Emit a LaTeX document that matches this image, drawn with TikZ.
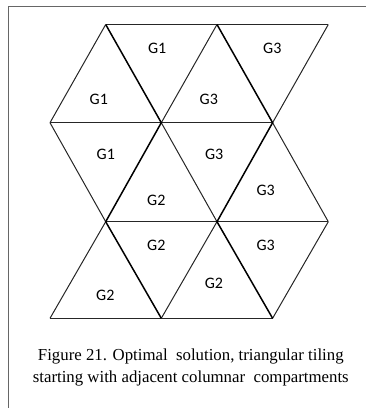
\documentclass[tikz,border=0pt]{standalone}
\usepackage{fontspec}
\setmainfont{Liberation Serif}
\newfontfamily\cellfont{Carlito}
\begin{document}
\begin{tikzpicture}[
  x=1pt, y=-1pt,
  edge/.style={line width=1pt, black!85},
  heavy/.style={line width=1.5pt, black},
  frame/.style={line width=1.5pt, black!60},
  cell/.style={font=\cellfont\fontsize{16}{18}\selectfont, inner sep=0pt},
  caption/.style={font=\fontsize{16.8}{22.7}\selectfont, align=center, anchor=base}
]
  \useasboundingbox (0,0) rectangle (366,408);
  \draw[frame] (366,6.5) -| (8.5,408);
  % vertices, four rows
  \foreach \r/\y/\s in {A/24.5/105.7, B/122.7/50, C/221.7/105.7, D/318.3/50}
    \foreach \i in {0,1,2}
      \coordinate (\r\i) at ({\s+111.3*\i},\y);
  % rows
  \draw[edge] (A0) -- (A2) (B0) -- (B2) (C0) -- (C2) (D0) -- (D2);
  % thin diagonals
  \draw[edge] (A0) -- (B0) (A1) -- (B1) (A2) -- (B2);
  \draw[edge] (B0) -- (C0) (B1) -- (C1) (B2) -- (C2);
  \draw[edge] (C0) -- (D0) (C1) -- (D1) (C2) -- (D2);
  % column borders
  \draw[heavy] (A0) -- (B1) -- (C0) -- (D1);
  \draw[heavy] (A1) -- (B2) -- (C1) -- (D2);
  % compartments
  \node[cell] (t1) at (157.2,48.3) {G1};
  \node[cell] (t2) at (272.3,48.3) {G3};
  \node[cell] (t3) at (98.8,99.3) {G1};
  \node[cell] (t4) at (208.8,99.3) {G3};
  \node[cell] (t5) at (105.8,154.3) {G1};
  \node[cell] (t6) at (214.2,154.3) {G3};
  \node[cell] (t7) at (156.3,200.5) {G2};
  \node[cell] (t8) at (265.7,190.5) {G3};
  \node[cell] (t9) at (156.3,245.2) {G2};
  \node[cell] (t10) at (265.7,245) {G3};
  \node[cell] (t11) at (105.3,295) {G2};
  \node[cell] (t12) at (214,283) {G2};
  \node[caption] (cap1) at (190.8,360) {Figure 21. Optimal\ \ solution, triangular tiling};
  \node[caption] (cap2) at (190.8,382.7) {starting with adjacent columnar\ \ compartments};
\end{tikzpicture}
\end{document}
